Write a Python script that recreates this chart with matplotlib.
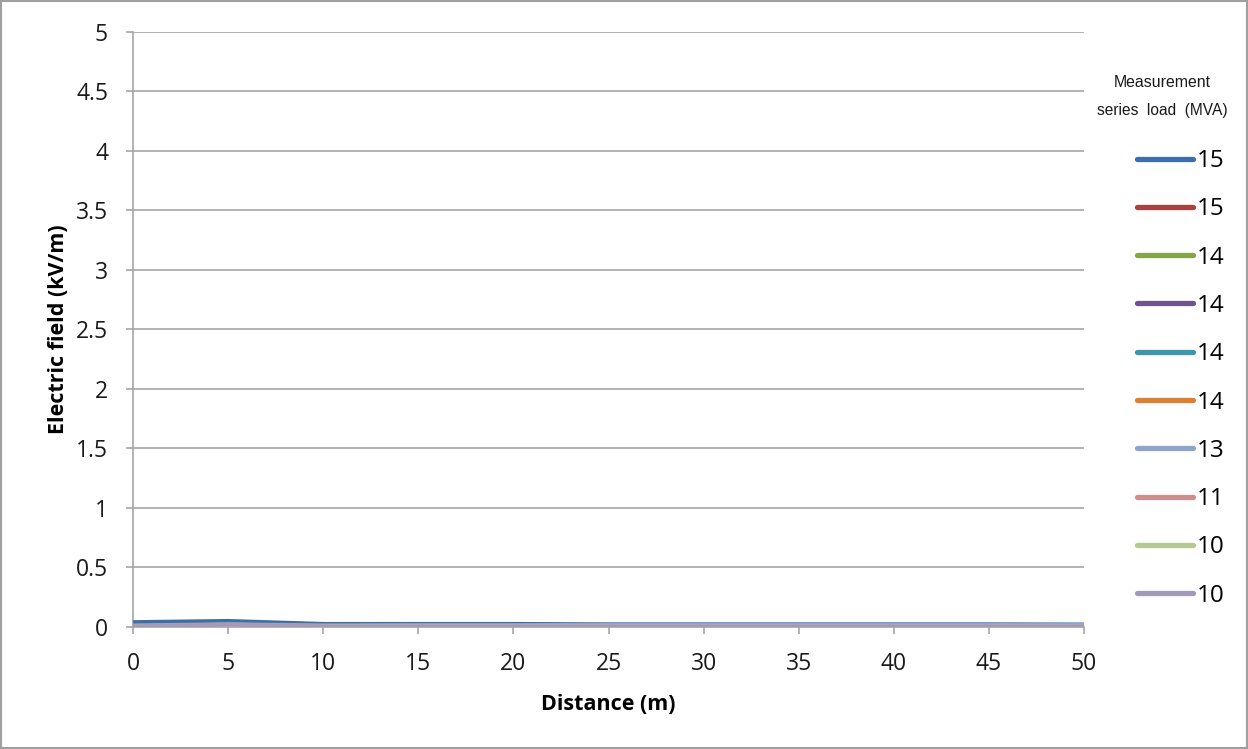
import matplotlib
matplotlib.use("Agg")
import matplotlib.pyplot as plt
from matplotlib.patches import Rectangle

distance = [0, 5, 10, 15, 20, 25, 30, 35, 40, 45, 50]
series_labels = ["15", "15", "14", "14", "14", "14", "13", "11", "10", "10"]
colors = ["#3d6ea8", "#a8423f", "#86a44a", "#6e548d", "#3d96ae",
          "#da8137", "#8ea5cb", "#ce8e8d", "#b5ca92", "#a599b8"]
s1 = [0.040, 0.050, 0.025, 0.025, 0.025, 0.022, 0.022, 0.022, 0.022, 0.022, 0.020]
s2 = [0.010, 0.020, 0.010, 0.010, 0.010, 0.010, 0.010, 0.010, 0.010, 0.010, 0.010]
s3 = [0.010, 0.020, 0.010, 0.010, 0.010, 0.010, 0.010, 0.010, 0.010, 0.010, 0.010]
s4 = [0.008, 0.018, 0.008, 0.008, 0.008, 0.008, 0.008, 0.008, 0.008, 0.008, 0.008]
s5 = [0.008, 0.018, 0.008, 0.008, 0.008, 0.008, 0.008, 0.008, 0.008, 0.008, 0.008]
s6 = [0.008, 0.018, 0.008, 0.008, 0.008, 0.008, 0.008, 0.008, 0.008, 0.008, 0.008]
s7 = [0.012, 0.022, 0.012, 0.015, 0.015, 0.018, 0.018, 0.018, 0.018, 0.018, 0.018]
s8 = [0.006, 0.015, 0.006, 0.006, 0.006, 0.006, 0.006, 0.006, 0.006, 0.006, 0.006]
s9 = [0.006, 0.015, 0.006, 0.006, 0.006, 0.006, 0.006, 0.006, 0.006, 0.006, 0.006]
s10 = [0.005, 0.020, 0.005, 0.005, 0.005, 0.005, 0.005, 0.005, 0.005, 0.005, 0.005]
series = [s1, s2, s3, s4, s5, s6, s7, s8, s9, s10]

yticks = [0, 0.5, 1, 1.5, 2, 2.5, 3, 3.5, 4, 4.5, 5]
ytick_labels = ["0", "0.5", "1", "1.5", "2", "2.5", "3", "3.5", "4", "4.5", "5"]

plt.rcParams['font.family'] = ['Open Sans', 'DejaVu Sans']

fig = plt.figure(figsize=(12.48, 7.49), dpi=100)
fig.patches.append(Rectangle((0.001, 0.001), 0.998, 0.997, transform=fig.transFigure,
                             fill=False, edgecolor="#a0a0a0", linewidth=1.5))
ax = fig.add_axes([0.1066, 0.1629, 0.7620, 0.7944])

for i, (vals, c, lab) in enumerate(zip(series, colors, series_labels)):
    ax.plot(distance, vals, color=c, linewidth=3, label=lab, zorder=3 + i,
            solid_capstyle='round')

ax.set_xlim(0, 50)
ax.set_ylim(0, 5)
ax.set_xticks(distance)
ax.set_xticklabels([str(d) for d in distance])
ax.set_yticks(yticks)
ax.set_yticklabels(ytick_labels)
ax.yaxis.grid(True, color="#a6a6a6", linewidth=1.2)
ax.set_axisbelow(True)
for sp in ["top", "right"]:
    ax.spines[sp].set_visible(False)
for sp in ["left", "bottom"]:
    ax.spines[sp].set_color("#a6a6a6")
    ax.spines[sp].set_linewidth(1.2)
ax.tick_params(axis="both", colors="#a6a6a6", labelcolor="#1a1a1a",
               labelsize=16.5, length=5, width=1.2)
ax.tick_params(axis="y", pad=13)
ax.tick_params(axis="x", pad=13)

ax.set_xlabel("Distance (m)", fontsize=15.5, fontweight="bold", labelpad=13)
ax.set_ylabel("Electric field (kV/m)", fontsize=15.5, fontweight="bold", labelpad=5)

leg = fig.legend(loc="upper left", bbox_to_anchor=(0.911, 0.801),
                 bbox_transform=fig.transFigure, frameon=False,
                 fontsize=17.5, handlelength=2.3, handletextpad=0.15,
                 labelspacing=1.0, borderaxespad=0, borderpad=0)
for line in leg.get_lines():
    line.set_linewidth(3.8)
    line.set_solid_capstyle('round')

fig.text(0.931, 0.8905, "Measurement", ha="center", va="center",
         fontsize=11.4, family="Liberation Sans", color="#1a1a1a")
fig.text(0.931, 0.853, "series  load  (MVA)", ha="center", va="center",
         fontsize=11.2, family="Liberation Sans", color="#1a1a1a")

fig.savefig("out.png", dpi=100)
